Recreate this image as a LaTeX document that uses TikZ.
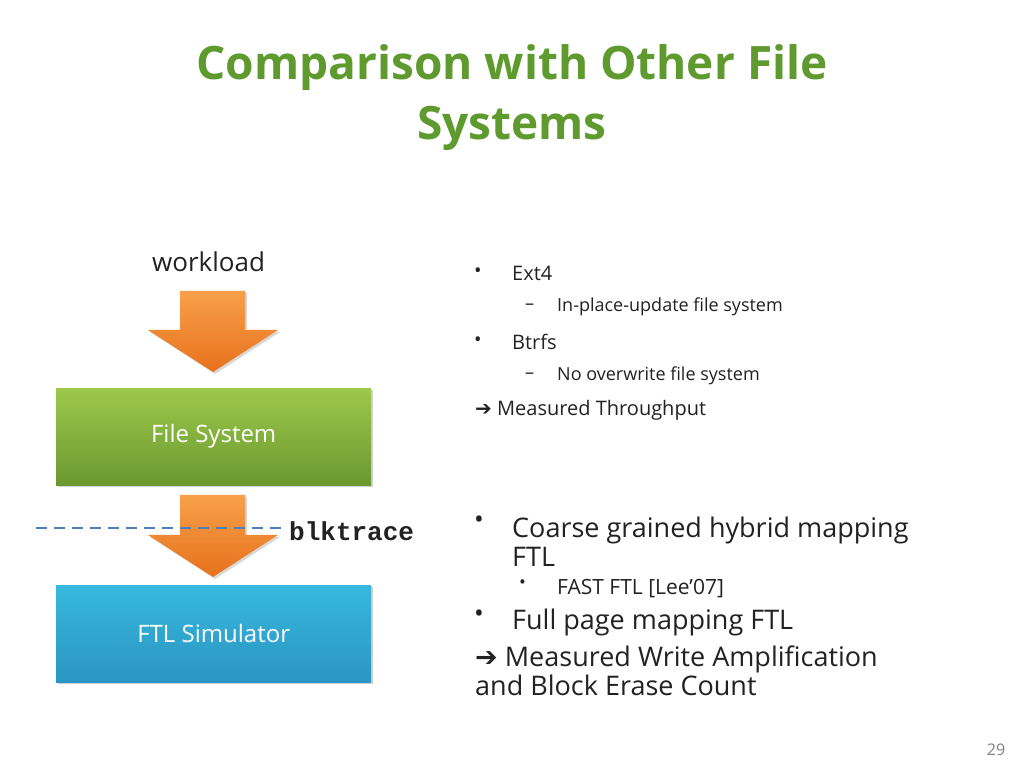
\documentclass[tikz,border=0pt]{standalone}
\usepackage{fontspec}
\setmainfont{Open Sans}
\newfontfamily\monof{Liberation Mono}
\newfontfamily\djf{DejaVu Sans}
\usetikzlibrary{shadows}
\definecolor{titlegreen}{HTML}{5E9A2E}
\definecolor{orangeA}{HTML}{F7A04A}
\definecolor{orangeB}{HTML}{E8711C}
\definecolor{greenA}{HTML}{9CC94B}
\definecolor{greenB}{HTML}{6B982F}
\definecolor{blueA}{HTML}{38B8DE}
\definecolor{blueB}{HTML}{2A95C2}
\definecolor{dashblue}{HTML}{4F7EBD}
\definecolor{txt}{HTML}{222222}
\tikzset{
  box/.style={draw=none,minimum width=315pt,minimum height=97pt,anchor=north west,text=white,font=\fontsize{24}{28}\selectfont,drop shadow={opacity=0.35,shadow xshift=2pt,shadow yshift=-2pt}},
  blockarrow/.style={top color=orangeA,bottom color=orangeB,draw=none,drop shadow={opacity=0.3,shadow xshift=2pt,shadow yshift=-2pt}},
  t/.style={anchor=west,text=txt,inner sep=0pt},
}
\begin{document}
\begin{tikzpicture}[x=1pt,y=1pt]
\useasboundingbox (0,0) rectangle (1024,768);
\fill[white] (0,0) rectangle (1024,768);
\node[text=titlegreen,font=\bfseries\fontsize{46}{60}\selectfont,align=center] (title) at (512,670) {Comparison with Other File\\Systems};
\node[t,font=\fontsize{26}{30}\selectfont] (wl) at (152,506) {workload};
% arrows
\path[blockarrow] (180,477) -- (245,477) -- (245,438) -- (278,438) -- (213,396) -- (148,438) -- (180,438) -- cycle;
\path[blockarrow] (180,273) -- (245,273) -- (245,233) -- (278,233) -- (213,191) -- (148,233) -- (180,233) -- cycle;
\node[box,top color=greenA,bottom color=greenB] (fs) at (56,380) {File System};
\node[box,top color=blueA,bottom color=blueB] (ftl) at (56,183) {FTL Simulator};
\coordinate (d1) at (36,240);
\coordinate (d2) at (282,240);
\draw[dashblue,line width=2pt,dash pattern=on 11pt off 7pt] (d1) -- (d2);
\node[t,font=\monof\bfseries\fontsize{26}{30}\selectfont] (bt) at (289,237) {blktrace};
% upper bullets
\node[t,font=\fontsize{20}{24}\selectfont] at (474,495) {•};
\node[t,font=\fontsize{20}{24}\selectfont] at (512,495) {Ext4};
\node[t,font=\fontsize{18}{22}\selectfont] at (525,461) {–};
\node[t,font=\fontsize{18}{22}\selectfont] at (557,461) {In-place-update file system};
\node[t,font=\fontsize{20}{24}\selectfont] at (474,426) {•};
\node[t,font=\fontsize{20}{24}\selectfont] at (512,426) {Btrfs};
\node[t,font=\fontsize{18}{22}\selectfont] at (525,392) {–};
\node[t,font=\fontsize{18}{22}\selectfont] at (557,392) {No overwrite file system};
\node[t,font=\fontsize{20}{24}\selectfont] at (475,358) {{\djf ➔} Measured Throughput};
% lower bullets
\node[t,font=\fontsize{26}{30}\selectfont] at (474,246) {•};
\node[t,font=\fontsize{27}{29}\selectfont,align=left] at (512,226) {Coarse grained hybrid mapping\\FTL};
\node[t,font=\fontsize{18}{22}\selectfont] at (519,184) {•};
\node[t,font=\fontsize{21}{24}\selectfont] at (557,179) {FAST FTL [Lee’07]};
\node[t,font=\fontsize{26}{30}\selectfont] at (474,152) {•};
\node[t,font=\fontsize{27}{30}\selectfont] at (512,146) {Full page mapping FTL};
\node[t,font=\fontsize{27}{29}\selectfont,align=left] at (475,97) {{\djf ➔} Measured Write Amplification\\and Block Erase Count};
\node[text=gray,font=\fontsize{16}{18}\selectfont] at (996,18) {29};
\end{tikzpicture}
\end{document}
